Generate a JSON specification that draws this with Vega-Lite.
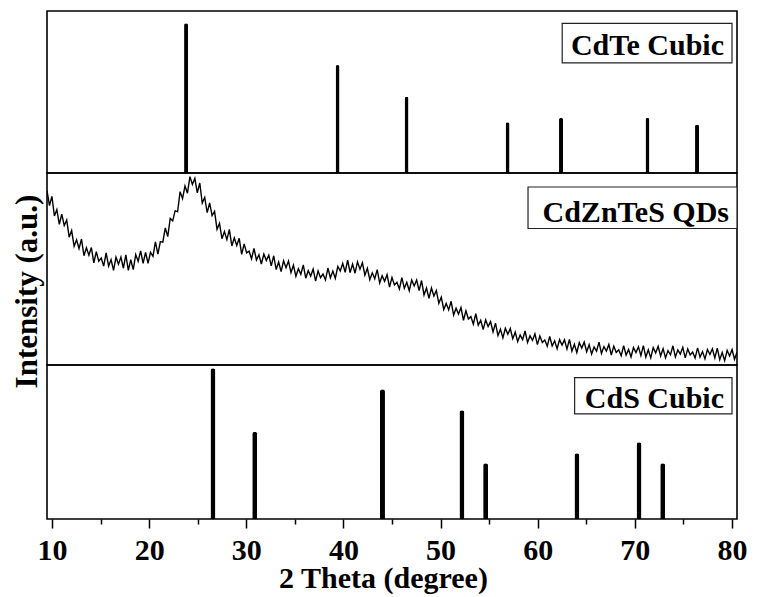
{
"$schema":"https://vega.github.io/schema/vega-lite/v6.json",
"background":"white",
"padding":{"left":10,"top":10,"right":5,"bottom":5},
"config":{"view":{"stroke":"black","strokeWidth":1.6},"font":"Liberation Serif"},
"spacing":0,
"bounds":"flush",
"datasets":{
"cdte":[{"t":23.8,"i":92.4},{"t":39.4,"i":66.6},{"t":46.5,"i":47.0},{"t":56.9,"i":31.4},{"t":62.4,"i":34.0},{"t":71.3,"i":34.0},{"t":76.4,"i":29.9}],
"cds":[{"t":26.57,"i":97.9},{"t":30.87,"i":56.7},{"t":44.02,"i":84.2},{"t":52.2,"i":70.6},{"t":54.64,"i":36.2},{"t":64.04,"i":42.7},{"t":70.43,"i":49.8},{"t":72.87,"i":36.2}],
"xrd":[{"t":10.0,"i":90.8},{"t":10.25,"i":83.0},{"t":10.5,"i":87.8},{"t":10.75,"i":77.6},{"t":11.0,"i":80.9},{"t":11.25,"i":73.3},{"t":11.5,"i":78.6},{"t":11.75,"i":72.6},{"t":12.0,"i":75.5},{"t":12.25,"i":66.6},{"t":12.5,"i":70.0},{"t":12.75,"i":61.8},{"t":13.0,"i":65.2},{"t":13.25,"i":60.6},{"t":13.5,"i":65.6},{"t":13.75,"i":56.9},{"t":14.0,"i":61.0},{"t":14.25,"i":57.2},{"t":14.5,"i":61.2},{"t":14.75,"i":53.2},{"t":15.0,"i":59.0},{"t":15.25,"i":54.1},{"t":15.5,"i":55.7},{"t":15.75,"i":51.5},{"t":16.0,"i":58.4},{"t":16.25,"i":51.5},{"t":16.5,"i":54.9},{"t":16.75,"i":49.3},{"t":17.0,"i":56.1},{"t":17.25,"i":52.5},{"t":17.5,"i":56.2},{"t":17.75,"i":50.4},{"t":18.0,"i":57.3},{"t":18.25,"i":49.3},{"t":18.5,"i":54.8},{"t":18.75,"i":49.7},{"t":19.0,"i":57.5},{"t":19.25,"i":54.0},{"t":19.5,"i":59.4},{"t":19.75,"i":52.9},{"t":20.0,"i":58.7},{"t":20.25,"i":52.9},{"t":20.5,"i":58.7},{"t":20.75,"i":56.6},{"t":21.0,"i":64.1},{"t":21.25,"i":57.8},{"t":21.5,"i":64.3},{"t":21.75,"i":64.0},{"t":22.0,"i":71.4},{"t":22.25,"i":66.9},{"t":22.5,"i":76.3},{"t":22.75,"i":75.1},{"t":23.0,"i":80.4},{"t":23.25,"i":79.8},{"t":23.5,"i":90.3},{"t":23.75,"i":86.7},{"t":24.0,"i":93.3},{"t":24.25,"i":89.5},{"t":24.5,"i":98.1},{"t":24.75,"i":94.0},{"t":25.0,"i":97.2},{"t":25.25,"i":89.7},{"t":25.5,"i":94.8},{"t":25.75,"i":84.3},{"t":26.0,"i":87.3},{"t":26.25,"i":79.4},{"t":26.5,"i":84.4},{"t":26.75,"i":77.8},{"t":27.0,"i":80.0},{"t":27.25,"i":70.7},{"t":27.5,"i":73.8},{"t":27.75,"i":65.8},{"t":28.0,"i":69.5},{"t":28.25,"i":65.3},{"t":28.5,"i":70.6},{"t":28.75,"i":62.0},{"t":29.0,"i":66.2},{"t":29.25,"i":62.2},{"t":29.5,"i":66.0},{"t":29.75,"i":57.6},{"t":30.0,"i":63.1},{"t":30.25,"i":58.4},{"t":30.5,"i":59.3},{"t":30.75,"i":55.3},{"t":31.0,"i":60.7},{"t":31.25,"i":54.7},{"t":31.5,"i":57.4},{"t":31.75,"i":52.6},{"t":32.0,"i":57.8},{"t":32.25,"i":54.4},{"t":32.5,"i":57.2},{"t":32.75,"i":51.6},{"t":33.0,"i":56.9},{"t":33.25,"i":49.7},{"t":33.5,"i":53.6},{"t":33.75,"i":48.6},{"t":34.0,"i":54.3},{"t":34.25,"i":50.7},{"t":34.5,"i":54.2},{"t":34.75,"i":48.1},{"t":35.0,"i":52.0},{"t":35.25,"i":46.2},{"t":35.5,"i":50.1},{"t":35.75,"i":47.2},{"t":36.0,"i":52.1},{"t":36.25,"i":45.2},{"t":36.5,"i":49.1},{"t":36.75,"i":46.3},{"t":37.0,"i":49.9},{"t":37.25,"i":43.7},{"t":37.5,"i":49.0},{"t":37.75,"i":45.5},{"t":38.0,"i":47.4},{"t":38.25,"i":44.3},{"t":38.5,"i":50.5},{"t":38.75,"i":45.4},{"t":39.0,"i":48.9},{"t":39.25,"i":45.1},{"t":39.5,"i":51.3},{"t":39.75,"i":49.0},{"t":40.0,"i":52.9},{"t":40.25,"i":48.3},{"t":40.5,"i":54.6},{"t":40.75,"i":48.1},{"t":41.0,"i":52.6},{"t":41.25,"i":47.8},{"t":41.5,"i":53.7},{"t":41.75,"i":49.9},{"t":42.0,"i":53.2},{"t":42.25,"i":46.8},{"t":42.5,"i":50.4},{"t":42.75,"i":44.4},{"t":43.0,"i":48.0},{"t":43.25,"i":44.9},{"t":43.5,"i":49.7},{"t":43.75,"i":42.7},{"t":44.0,"i":46.5},{"t":44.25,"i":43.6},{"t":44.5,"i":47.1},{"t":44.75,"i":40.6},{"t":45.0,"i":45.6},{"t":45.25,"i":41.7},{"t":45.5,"i":43.1},{"t":45.75,"i":39.6},{"t":46.0,"i":45.5},{"t":46.25,"i":40.0},{"t":46.5,"i":43.1},{"t":46.75,"i":38.7},{"t":47.0,"i":44.3},{"t":47.25,"i":41.2},{"t":47.5,"i":44.3},{"t":47.75,"i":38.7},{"t":48.0,"i":44.0},{"t":48.25,"i":36.5},{"t":48.5,"i":40.1},{"t":48.75,"i":34.7},{"t":49.0,"i":40.1},{"t":49.25,"i":35.9},{"t":49.5,"i":38.8},{"t":49.75,"i":32.1},{"t":50.0,"i":35.3},{"t":50.25,"i":28.9},{"t":50.5,"i":32.1},{"t":50.75,"i":28.7},{"t":51.0,"i":33.2},{"t":51.25,"i":26.0},{"t":51.5,"i":29.6},{"t":51.75,"i":26.5},{"t":52.0,"i":29.9},{"t":52.25,"i":23.3},{"t":52.5,"i":28.2},{"t":52.75,"i":24.0},{"t":53.0,"i":25.2},{"t":53.25,"i":21.3},{"t":53.5,"i":26.7},{"t":53.75,"i":20.7},{"t":54.0,"i":23.3},{"t":54.25,"i":18.4},{"t":54.5,"i":23.5},{"t":54.75,"i":20.0},{"t":55.0,"i":22.6},{"t":55.25,"i":17.2},{"t":55.5,"i":21.8},{"t":55.75,"i":15.3},{"t":56.0,"i":18.6},{"t":56.25,"i":14.1},{"t":56.5,"i":19.1},{"t":56.75,"i":16.0},{"t":57.0,"i":19.0},{"t":57.25,"i":13.7},{"t":57.5,"i":17.1},{"t":57.75,"i":12.1},{"t":58.0,"i":15.6},{"t":58.25,"i":13.2},{"t":58.5,"i":17.7},{"t":58.75,"i":11.7},{"t":59.0,"i":15.2},{"t":59.25,"i":12.8},{"t":59.5,"i":16.2},{"t":59.75,"i":10.6},{"t":60.0,"i":15.1},{"t":60.25,"i":11.7},{"t":60.5,"i":13.0},{"t":60.75,"i":9.8},{"t":61.0,"i":14.9},{"t":61.25,"i":9.9},{"t":61.5,"i":12.6},{"t":61.75,"i":8.5},{"t":62.0,"i":13.2},{"t":62.25,"i":10.4},{"t":62.5,"i":13.1},{"t":62.75,"i":8.3},{"t":63.0,"i":13.3},{"t":63.25,"i":7.2},{"t":63.5,"i":10.8},{"t":63.75,"i":6.5},{"t":64.0,"i":11.7},{"t":64.25,"i":8.8},{"t":64.5,"i":12.0},{"t":64.75,"i":6.9},{"t":65.0,"i":10.6},{"t":65.25,"i":5.7},{"t":65.5,"i":9.4},{"t":65.75,"i":7.2},{"t":66.0,"i":11.9},{"t":66.25,"i":6.0},{"t":66.5,"i":9.6},{"t":66.75,"i":7.3},{"t":67.0,"i":10.7},{"t":67.25,"i":5.2},{"t":67.5,"i":9.8},{"t":67.75,"i":6.5},{"t":68.0,"i":7.9},{"t":68.25,"i":4.8},{"t":68.5,"i":10.1},{"t":68.75,"i":5.2},{"t":69.0,"i":8.1},{"t":69.25,"i":4.2},{"t":69.5,"i":9.1},{"t":69.75,"i":6.5},{"t":70.0,"i":9.5},{"t":70.25,"i":4.9},{"t":70.5,"i":10.1},{"t":70.75,"i":4.1},{"t":71.0,"i":7.9},{"t":71.25,"i":3.7},{"t":71.5,"i":9.1},{"t":71.75,"i":6.3},{"t":72.0,"i":9.7},{"t":72.25,"i":4.7},{"t":72.5,"i":8.5},{"t":72.75,"i":3.7},{"t":73.0,"i":7.5},{"t":73.25,"i":5.3},{"t":73.5,"i":10.0},{"t":73.75,"i":4.2},{"t":74.0,"i":7.9},{"t":74.25,"i":5.7},{"t":74.5,"i":9.2},{"t":74.75,"i":3.7},{"t":75.0,"i":8.4},{"t":75.25,"i":5.2},{"t":75.5,"i":6.7},{"t":75.75,"i":3.6},{"t":76.0,"i":8.9},{"t":76.25,"i":4.1},{"t":76.5,"i":7.0},{"t":76.75,"i":3.2},{"t":77.0,"i":8.1},{"t":77.25,"i":5.5},{"t":77.5,"i":8.4},{"t":77.75,"i":3.7},{"t":78.0,"i":8.8},{"t":78.25,"i":2.8},{"t":78.5,"i":6.5},{"t":78.75,"i":2.3},{"t":79.0,"i":7.6},{"t":79.25,"i":4.7},{"t":79.5,"i":8.0},{"t":79.75,"i":3.0},{"t":80.0,"i":6.7}]
},
"vconcat":[
{
"width":690,"height":162,
"resolve":{"axis":{"x":"independent","y":"independent"}},
"layer":[
{"data":{"name":"cdte"},"mark":{"type":"bar","color":"black","size":4,"cornerRadiusEnd":2},
"encoding":{"x":{"field":"t","type":"quantitative","scale":{"domain":[10,80],"nice":false,"zero":false},"axis":null},
"y":{"field":"i","type":"quantitative","scale":{"domain":[0,100],"nice":false},"axis":null}}},
{"data":{"values":[{}]},"mark":{"type":"rect","fill":"white","stroke":"#222","strokeWidth":1.2},
"encoding":{"x":{"datum":62.52,"type":"quantitative","axis":null},"x2":{"datum":80},"y":{"datum":68.0,"type":"quantitative","axis":null},"y2":{"datum":92.4}}},
{"data":{"values":[{}]},"mark":{"type":"text","font":"Liberation Serif","fontWeight":"bold","fontSize":30,"color":"black","align":"right","baseline":"alphabetic","dx":-8},
"encoding":{"x":{"datum":80,"type":"quantitative","axis":null},"y":{"datum":72.8,"type":"quantitative","axis":null},"text":{"value":"CdTe Cubic"}}}
]
},
{
"width":690,"height":192,
"resolve":{"axis":{"x":"independent","y":"independent"}},
"layer":[
{"data":{"name":"xrd"},"mark":{"type":"line","color":"black","strokeWidth":1.4,"clip":true},
"encoding":{"x":{"field":"t","type":"quantitative","scale":{"domain":[10,80],"nice":false,"zero":false},"axis":null},
"y":{"field":"i","type":"quantitative","scale":{"domain":[0,100],"nice":false},
"axis":{"title":"Intensity (a.u.)","labels":false,"ticks":false,"domain":false,"grid":false,"titleFont":"Liberation Serif","titleFontWeight":"bold","titleFontSize":31,"titleColor":"black","titleAngle":-90,"titleX":-11,"titleY":118,"titleAlign":"center","titleBaseline":"alphabetic"}}}},
{"data":{"values":[{}]},"mark":{"type":"rect","fill":"white","stroke":"#222","strokeWidth":1.2},
"encoding":{"x":{"datum":58.8,"type":"quantitative","axis":null},"x2":{"datum":80},"y":{"datum":71.1,"type":"quantitative","axis":null},"y2":{"datum":92.7}}},
{"data":{"values":[{}]},"mark":{"type":"text","font":"Liberation Serif","fontWeight":"bold","fontSize":30,"color":"black","align":"right","baseline":"alphabetic","dx":-8},
"encoding":{"x":{"datum":80,"type":"quantitative","axis":null},"y":{"datum":74.5,"type":"quantitative","axis":null},"text":{"value":"CdZnTeS QDs"}}}
]
},
{
"width":690,"height":154,
"resolve":{"axis":{"x":"independent","y":"independent"}},
"layer":[
{"data":{"name":"cds"},"mark":{"type":"bar","color":"black","size":5,"cornerRadiusEnd":2.5},
"encoding":{"x":{"field":"t","type":"quantitative","scale":{"domain":[10,80],"nice":false,"zero":false},
"axis":{"orient":"bottom","values":[10,20,30,40,50,60,70,80],"format":"d","title":"2 Theta (degree)","domain":false,"grid":false,"tickSize":9,"tickWidth":1.5,"tickColor":"black","labelFont":"Liberation Serif","labelFontWeight":"bold","labelFontSize":30,"labelColor":"black","labelPadding":7,"labelFlush":false,"labelOverlap":false,"labelBound":false,"titleFont":"Liberation Serif","titleFontWeight":"bold","titleFontSize":30,"titleColor":"black","titleBaseline":"alphabetic","titleAlign":"center","titleX":336,"titleY":68}},
"y":{"field":"i","type":"quantitative","scale":{"domain":[0,100],"nice":false},"axis":null}}},
{"data":{"values":[{}]},"mark":{"type":"rect","fill":"white","stroke":"#222","strokeWidth":1.2},
"encoding":{"x":{"datum":63.8,"type":"quantitative","axis":{"orient":"bottom","values":[15,25,35,45,55,65,75],"labels":false,"domain":false,"grid":false,"tickSize":5,"tickWidth":1.5,"tickColor":"black","title":null}},"x2":{"datum":80},"y":{"datum":68.2,"type":"quantitative","axis":null},"y2":{"datum":91.8}}},
{"data":{"values":[{}]},"mark":{"type":"text","font":"Liberation Serif","fontWeight":"bold","fontSize":30,"color":"black","align":"right","baseline":"alphabetic","dx":-8},
"encoding":{"x":{"datum":80,"type":"quantitative","axis":null},"y":{"datum":72.3,"type":"quantitative","axis":null},"text":{"value":"CdS Cubic"}}}
]
}
]
}
